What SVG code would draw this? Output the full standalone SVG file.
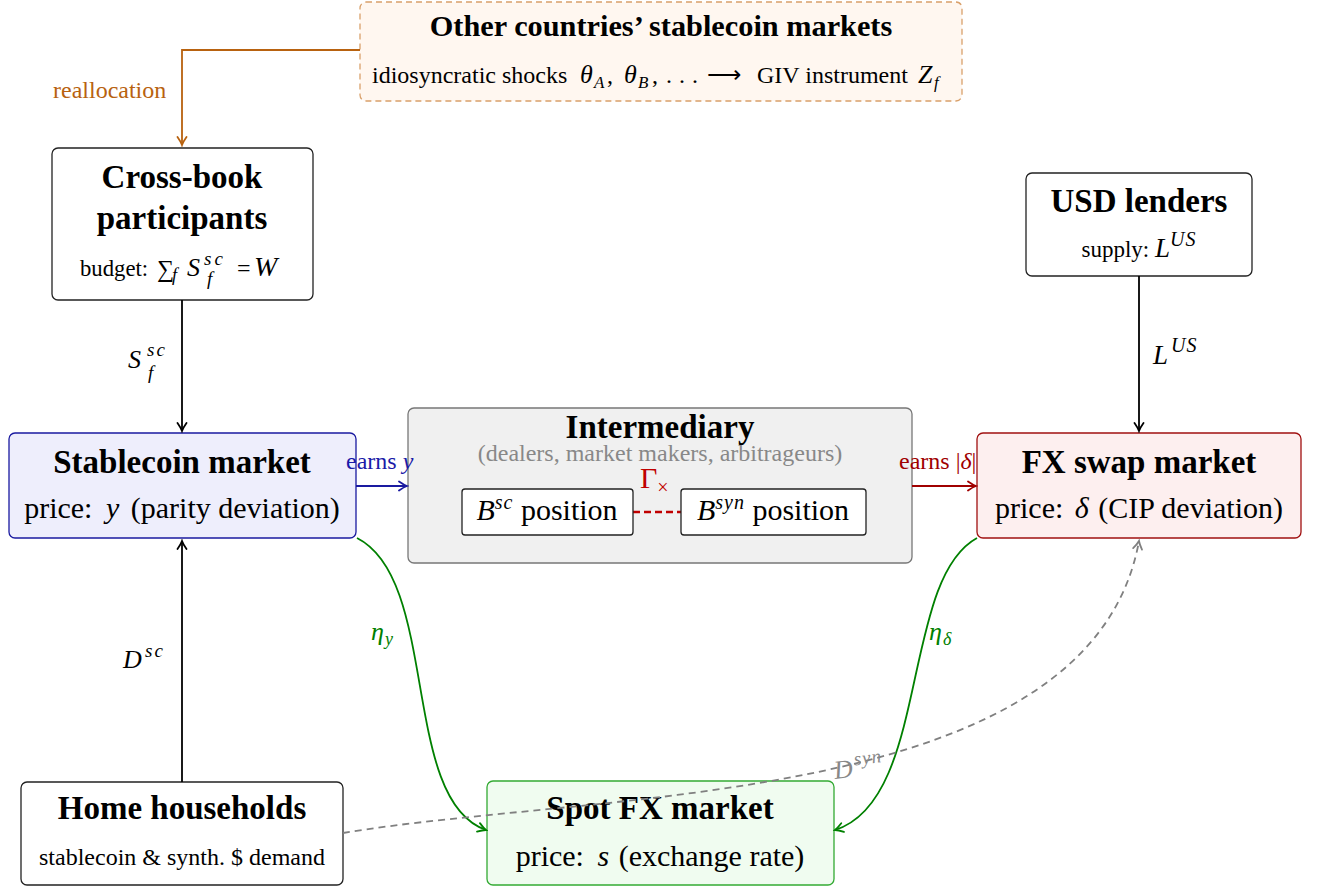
<svg xmlns="http://www.w3.org/2000/svg" width="1317" height="893" viewBox="0 0 1317 893">
<style>
.t{font-weight:bold;text-anchor:middle}
.m{text-anchor:middle}
.i{font-style:italic}
.box{stroke:#222;stroke-width:1.3;fill:#fff}
.conn{fill:none;stroke-width:1.8}
</style>
<defs>
<marker id="ak" viewBox="-10 -6 12 12" refX="0" refY="0" markerWidth="12" markerHeight="12" markerUnits="userSpaceOnUse" orient="auto">
<path d="M-8,-4.5 Q-3,-1 0,0 Q-3,1 -8,4.5" fill="none" stroke="#000" stroke-width="1.8" stroke-linecap="round"/>
</marker>
<marker id="ao" viewBox="-10 -6 12 12" refX="0" refY="0" markerWidth="12" markerHeight="12" markerUnits="userSpaceOnUse" orient="auto">
<path d="M-8,-4.5 Q-3,-1 0,0 Q-3,1 -8,4.5" fill="none" stroke="#B8620F" stroke-width="1.8" stroke-linecap="round"/>
</marker>
<marker id="ab" viewBox="-10 -6 12 12" refX="0" refY="0" markerWidth="12" markerHeight="12" markerUnits="userSpaceOnUse" orient="auto">
<path d="M-8,-4.5 Q-3,-1 0,0 Q-3,1 -8,4.5" fill="none" stroke="#1a1aa0" stroke-width="1.8" stroke-linecap="round"/>
</marker>
<marker id="ar" viewBox="-10 -6 12 12" refX="0" refY="0" markerWidth="12" markerHeight="12" markerUnits="userSpaceOnUse" orient="auto">
<path d="M-8,-4.5 Q-3,-1 0,0 Q-3,1 -8,4.5" fill="none" stroke="#a00000" stroke-width="1.8" stroke-linecap="round"/>
</marker>
<marker id="ag" viewBox="-10 -6 12 12" refX="0" refY="0" markerWidth="12" markerHeight="12" markerUnits="userSpaceOnUse" orient="auto">
<path d="M-8,-4.5 Q-3,-1 0,0 Q-3,1 -8,4.5" fill="none" stroke="#008000" stroke-width="1.8" stroke-linecap="round"/>
</marker>
<marker id="ay" viewBox="-10 -6 12 12" refX="0" refY="0" markerWidth="12" markerHeight="12" markerUnits="userSpaceOnUse" orient="auto">
<path d="M-8,-4.5 Q-3,-1 0,0 Q-3,1 -8,4.5" fill="none" stroke="#808080" stroke-width="1.8" stroke-linecap="round"/>
</marker>
</defs>

<g id="other-countries">
<rect x="360" y="2" width="602" height="99" rx="6" fill="#FFF7F0" stroke="#D9A06A" stroke-width="1.3" stroke-dasharray="6,4"/>
<text font-family="Liberation Serif, serif" class="t" x="661" y="36" font-size="30.3">Other countries’ stablecoin markets</text>
<text font-family="Liberation Serif, serif" x="372" y="83" font-size="24">idiosyncratic shocks<tspan class="i" font-size="26" x="580">θ</tspan><tspan class="i" font-size="17" x="594" dy="5">A</tspan><tspan x="607" dy="-5">,</tspan><tspan class="i" font-size="26" x="624">θ</tspan><tspan class="i" font-size="17" x="638" dy="5">B</tspan><tspan x="652" dy="-5">,</tspan><tspan x="666">.</tspan><tspan x="679">.</tspan><tspan x="692">.</tspan><tspan x="707">⟶</tspan><tspan x="757">GIV instrument</tspan><tspan class="i" font-size="26" x="918">Z</tspan><tspan class="i" font-size="17" x="934" dy="5">f</tspan></text>
</g>

<g id="cross-book">
<rect class="box" x="52" y="148" width="261" height="152" rx="6"/>
<text font-family="Liberation Serif, serif" class="t" x="182" y="188" font-size="33">Cross-book</text>
<text font-family="Liberation Serif, serif" class="t" x="182" y="229" font-size="33">participants</text>
<text font-family="Liberation Serif, serif" x="80" y="276" font-size="22.7">budget:</text>
<text font-family="Liberation Serif, serif" x="157" y="277" font-size="24">∑</text>
<text font-family="Liberation Serif, serif" x="172" y="281" font-size="18" class="i">f</text>
<text font-family="Liberation Serif, serif" x="187" y="276" font-size="26" class="i">S</text>
<text font-family="Liberation Serif, serif" x="204" y="265" font-size="19" class="i" letter-spacing="3">sc</text>
<text font-family="Liberation Serif, serif" x="207" y="285" font-size="19" class="i">f</text>
<text font-family="Liberation Serif, serif" x="237" y="276" font-size="24">=</text>
<text font-family="Liberation Serif, serif" x="254" y="276" font-size="28" class="i">W</text>
</g>

<g id="usd-lenders">
<rect class="box" x="1026" y="173" width="226" height="103" rx="6"/>
<text font-family="Liberation Serif, serif" class="t" x="1139" y="212" font-size="33">USD lenders</text>
<text font-family="Liberation Serif, serif" class="m" x="1139" y="257" font-size="23">supply:  <tspan class="i" font-size="27">L</tspan><tspan class="i" font-size="20" dy="-11" letter-spacing="1">US</tspan></text>
</g>

<g id="stablecoin-market">
<rect x="9" y="433" width="347" height="105" rx="6" fill="#EEEEFC" stroke="#1a1aa0" stroke-width="1.3"/>
<text font-family="Liberation Serif, serif" class="t" x="182" y="473" font-size="33">Stablecoin market</text>
<text font-family="Liberation Serif, serif" class="m" x="182" y="518" font-size="30">price: <tspan dx="6" class="i">y</tspan><tspan dx="4"> (parity deviation)</tspan></text>
</g>

<g id="intermediary">
<rect x="408" y="408" width="504" height="155" rx="6" fill="#F0F0F0" stroke="#777" stroke-width="1.3"/>
<text font-family="Liberation Serif, serif" class="t" x="660" y="438" font-size="33">Intermediary</text>
<text font-family="Liberation Serif, serif" class="m" x="660" y="461" font-size="24" fill="#888">(dealers, market makers, arbitrageurs)</text>
<text font-family="Liberation Serif, serif" x="640" y="488" font-size="30" fill="#c00000">Γ<tspan font-size="20" dy="6">×</tspan></text>
<line x1="633" y1="512" x2="681" y2="512" stroke="#c00000" stroke-width="2.5" stroke-dasharray="7,4"/>
<rect class="box" x="462" y="489" width="171" height="46" rx="3"/>
<text font-family="Liberation Serif, serif" class="m" x="547" y="520" font-size="30"><tspan class="i">B</tspan><tspan class="i" font-size="20" dy="-11" letter-spacing="1">sc</tspan><tspan dy="11"> position</tspan></text>
<rect class="box" x="681" y="489" width="185" height="46" rx="3"/>
<text font-family="Liberation Serif, serif" class="m" x="773" y="520" font-size="30"><tspan class="i">B</tspan><tspan class="i" font-size="20" dy="-11" letter-spacing="1">syn</tspan><tspan dy="11"> position</tspan></text>
</g>

<g id="fx-swap-market">
<rect x="977" y="433" width="324" height="105" rx="6" fill="#FDEFEF" stroke="#a01010" stroke-width="1.3"/>
<text font-family="Liberation Serif, serif" class="t" x="1139" y="473" font-size="33">FX swap market</text>
<text font-family="Liberation Serif, serif" class="m" x="1139" y="518" font-size="30">price: <tspan dx="4" class="i">δ</tspan><tspan dx="2"> (CIP deviation)</tspan></text>
</g>

<g id="home-households">
<rect class="box" x="21" y="782" width="322" height="103" rx="6"/>
<text font-family="Liberation Serif, serif" class="t" x="182" y="819" font-size="33">Home households</text>
<text font-family="Liberation Serif, serif" class="m" x="182" y="865" font-size="24">stablecoin &amp; synth. $ demand</text>
</g>

<g id="spot-fx-market">
<rect x="487" y="781" width="347" height="104" rx="6" fill="#F0FCF0" stroke="#33AA33" stroke-width="1.3"/>
<text font-family="Liberation Serif, serif" class="t" x="660" y="819" font-size="33">Spot FX market</text>
<text font-family="Liberation Serif, serif" class="m" x="660" y="866" font-size="30">price: <tspan dx="6" class="i">s</tspan><tspan dx="2"> (exchange rate)</tspan></text>
</g>

<g id="connectors">
<path class="conn" d="M360,50 H182 V145" stroke="#B8620F" marker-end="url(#ao)"/>
<path class="conn" d="M182,300 V431" stroke="#000" marker-end="url(#ak)"/>
<path class="conn" d="M182,782 V541" stroke="#000" marker-end="url(#ak)"/>
<path class="conn" d="M1139,276 V431" stroke="#000" marker-end="url(#ak)"/>
<path class="conn" d="M356,486 H407" stroke="#1a1aa0" marker-end="url(#ab)"/>
<path class="conn" d="M912,486 H976" stroke="#a00000" marker-end="url(#ar)"/>
<path class="conn" d="M357,538 C440,580 400,800 486,830" stroke="#008000" marker-end="url(#ag)"/>
<path class="conn" d="M977,538 C900,580 930,800 835,830" stroke="#008000" marker-end="url(#ag)"/>
<path class="conn" d="M343,833 C600,790 1090,810 1139,541" stroke="#808080" stroke-dasharray="7,5" marker-end="url(#ay)"/>
<text font-family="Liberation Serif, serif" x="53" y="98" font-size="24" fill="#B8620F">reallocation</text>
<text font-family="Liberation Serif, serif" x="128" y="368" font-size="26" class="i">S</text>
<text font-family="Liberation Serif, serif" x="147" y="356" font-size="19" class="i" letter-spacing="2">sc</text>
<text font-family="Liberation Serif, serif" x="148" y="379" font-size="19" class="i">f</text>
<text font-family="Liberation Serif, serif" x="123" y="668" font-size="26" class="i">D</text>
<text font-family="Liberation Serif, serif" x="145" y="657" font-size="19" class="i" letter-spacing="2">sc</text>
<text font-family="Liberation Serif, serif" x="1153" y="364" font-size="27" class="i">L</text>
<text font-family="Liberation Serif, serif" x="1171" y="352" font-size="20" class="i" letter-spacing="1">US</text>
<text font-family="Liberation Serif, serif" x="371" y="640" font-size="26" class="i" fill="#008000">η</text>
<text font-family="Liberation Serif, serif" x="385" y="645" font-size="18" class="i" fill="#008000">y</text>
<text font-family="Liberation Serif, serif" x="929" y="640" font-size="26" class="i" fill="#008000">η</text>
<text font-family="Liberation Serif, serif" x="943" y="645" font-size="18" class="i" fill="#008000">δ</text>
<text font-family="Liberation Serif, serif" x="346" y="469" font-size="24" fill="#1a1aa8">earns <tspan class="i">y</tspan></text>
<text font-family="Liberation Serif, serif" x="899" y="469" font-size="24" fill="#a00000">earns |<tspan class="i">δ</tspan>|</text>
<g transform="rotate(-7 835 779)" fill="#888">
<text font-family="Liberation Serif, serif" x="835" y="779" font-size="26" class="i">D</text>
<text font-family="Liberation Serif, serif" x="856" y="768" font-size="19" class="i" letter-spacing="1">syn</text>
</g>
</g>
</svg>
